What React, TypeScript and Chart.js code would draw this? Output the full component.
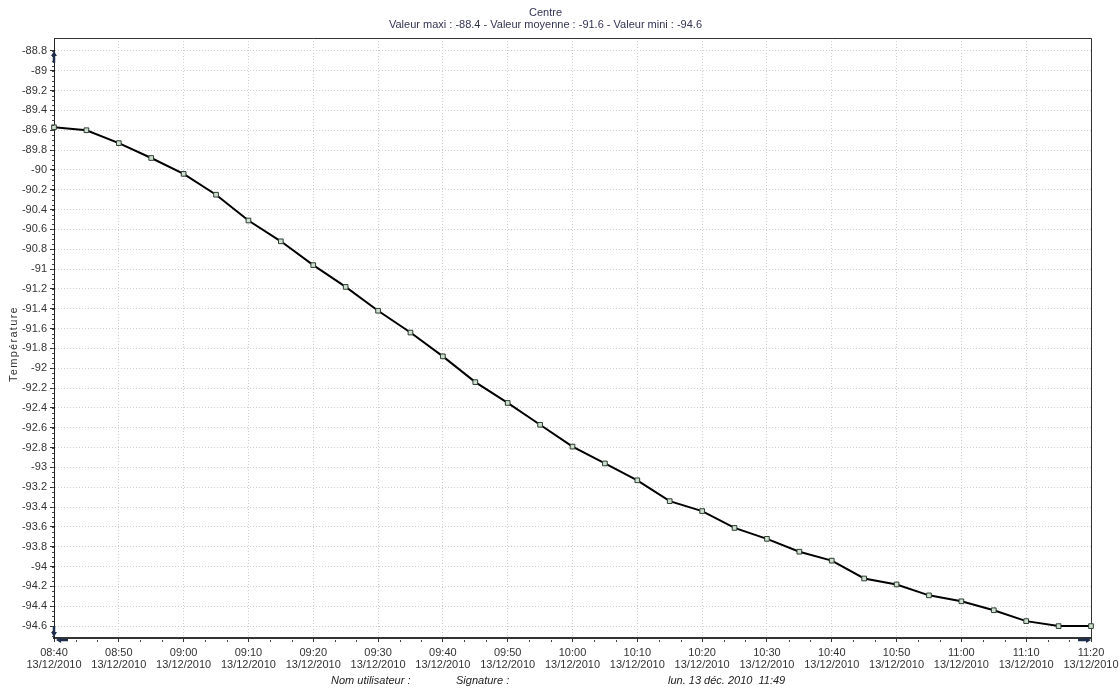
import React, { useEffect, useRef } from "react";
import { Chart, registerables } from "chart.js";

Chart.register(...registerables);

const titleText = "Centre";
const subtitleText = "Valeur maxi : -88.4 - Valeur moyenne : -91.6 - Valeur mini : -94.6";
const yAxisTitle = "Température";
const footerUser = "Nom utilisateur :";
const footerSignature = "Signature :";
const footerDate = "lun. 13 déc. 2010  11:49";

const times = [
  "08:40", "08:45", "08:50", "08:55", "09:00", "09:05", "09:10", "09:15", "09:20", "09:25", "09:30",
  "09:35", "09:40", "09:45", "09:50", "09:55", "10:00", "10:05", "10:10", "10:15", "10:20", "10:25",
  "10:30", "10:35", "10:40", "10:45", "10:50", "10:55", "11:00", "11:05", "11:10", "11:15", "11:20",
];
const temps = [
  -89.57, -89.6, -89.73, -89.88, -90.04, -90.25, -90.51, -90.72, -90.96, -91.18, -91.42,
  -91.64, -91.88, -92.14, -92.35, -92.57, -92.79, -92.96, -93.13, -93.34, -93.44, -93.61,
  -93.72, -93.85, -93.94, -94.12, -94.18, -94.29, -94.35, -94.44, -94.55, -94.6, -94.6,
];

const xTickTimes = [
  "08:40", "08:50", "09:00", "09:10", "09:20", "09:30", "09:40", "09:50", "10:00",
  "10:10", "10:20", "10:30", "10:40", "10:50", "11:00", "11:10", "11:20",
];
const xTickDate = "13/12/2010";

const yTickLabels = [
  "-88.8", "-89", "-89.2", "-89.4", "-89.6", "-89.8", "-90", "-90.2", "-90.4", "-90.6",
  "-90.8", "-91", "-91.2", "-91.4", "-91.6", "-91.8", "-92", "-92.2", "-92.4", "-92.6",
  "-92.8", "-93", "-93.2", "-93.4", "-93.6", "-93.8", "-94", "-94.2", "-94.4", "-94.6",
];
const yMin = -94.72;
const yMax = -88.67;
const yMinorStep = 0.05;
const xMinorDivisions = 3;

const FONT = "'Liberation Sans', Arial, sans-serif";

const minutesOf = (t: string) => {
  const [h, m] = t.split(":").map(Number);
  return h * 60 + m;
};
const start = minutesOf(times[0]);
const rel = (t: string) => minutesOf(t) - start;

function arrow(ctx: CanvasRenderingContext2D, x1: number, y1: number, x2: number, y2: number) {
  const ang = Math.atan2(y2 - y1, x2 - x1);
  const head = 5;
  ctx.beginPath();
  ctx.moveTo(x1, y1);
  ctx.lineTo(x2 - Math.cos(ang) * head, y2 - Math.sin(ang) * head);
  ctx.stroke();
  ctx.beginPath();
  ctx.moveTo(x2, y2);
  ctx.lineTo(x2 - Math.cos(ang) * head - Math.sin(ang) * 3, y2 - Math.sin(ang) * head + Math.cos(ang) * 3);
  ctx.lineTo(x2 - Math.cos(ang) * head + Math.sin(ang) * 3, y2 - Math.sin(ang) * head - Math.cos(ang) * 3);
  ctx.closePath();
  ctx.fill();
}

const decorPlugin = {
  id: "decor",
  beforeDatasetsDraw(chart: any) {
    const { ctx, chartArea: a } = chart;
    ctx.save();
    ctx.strokeStyle = "#333";
    ctx.lineWidth = 1;
    ctx.beginPath();
    ctx.moveTo(a.left, a.top + 0.5);
    ctx.lineTo(a.right + 0.5, a.top + 0.5);
    ctx.lineTo(a.right + 0.5, a.bottom);
    ctx.stroke();
    ctx.restore();
  },
  afterDraw(chart: any) {
    const { ctx, chartArea: a } = chart;
    const xs = chart.scales.x;
    const ys = chart.scales.y;
    ctx.save();
    // minor ticks
    ctx.strokeStyle = "#444";
    ctx.lineWidth = 1;
    ctx.beginPath();
    const yTop = parseFloat(yTickLabels[0]);
    for (let v = yTop; v >= yMin; v -= yMinorStep) {
      const py = Math.round(ys.getPixelForValue(v)) + 0.5;
      ctx.moveTo(a.left - 2, py);
      ctx.lineTo(a.left, py);
    }
    for (let i = 0; i < xTickTimes.length - 1; i++) {
      const m0 = rel(xTickTimes[i]);
      const m1 = rel(xTickTimes[i + 1]);
      for (let k = 1; k < xMinorDivisions; k++) {
        const px = Math.round(xs.getPixelForValue(m0 + ((m1 - m0) * k) / xMinorDivisions)) + 0.5;
        ctx.moveTo(px, a.bottom + 2);
        ctx.lineTo(px, a.bottom + 4);
      }
    }
    ctx.stroke();

    // range arrows
    ctx.strokeStyle = "#1f2d4d";
    ctx.fillStyle = "#1f2d4d";
    ctx.lineWidth = 2.5;
    const pTop = ys.getPixelForValue(parseFloat(yTickLabels[0]));
    const pBot = ys.getPixelForValue(parseFloat(yTickLabels[yTickLabels.length - 1]));
    arrow(ctx, a.left, pTop + 12, a.left, pTop);
    arrow(ctx, a.left, pBot, a.left, a.bottom - 1);
    const px0 = xs.getPixelForValue(rel(times[0]));
    const px1 = xs.getPixelForValue(rel(times[times.length - 1]));
    arrow(ctx, px0 + 14, a.bottom + 2, px0 + 2, a.bottom + 2);
    arrow(ctx, px1 - 13, a.bottom + 2, px1, a.bottom + 2);

    // y axis title
    ctx.fillStyle = "#333";
    ctx.font = `11px ${FONT}`;
    (ctx as any).letterSpacing = "1.3px";
    ctx.textAlign = "center";
    ctx.textBaseline = "middle";
    ctx.translate(14, (a.top + a.bottom) / 2 + 6);
    ctx.rotate(-Math.PI / 2);
    ctx.fillText(yAxisTitle, 0, 0);
    ctx.restore();

    // footer
    ctx.save();
    ctx.fillStyle = "#222";
    ctx.font = `italic 11px ${FONT}`;
    ctx.textAlign = "left";
    ctx.textBaseline = "middle";
    ctx.fillText(footerUser, 331, 681);
    ctx.fillText(footerSignature, 456, 681);
    ctx.fillText(footerDate, 668, 681);
    ctx.restore();
  },
};

export default function App() {
  const ref = useRef<HTMLCanvasElement | null>(null);

  useEffect(() => {
    document.body.style.margin = "0";
    const canvas = ref.current;
    if (!canvas) return;
    const chart = new Chart(canvas, {
      type: "line",
      data: {
        datasets: [
          {
            data: times.map((t, i) => ({ x: rel(t), y: temps[i] })),
            borderColor: "#000",
            borderWidth: 2,
            pointStyle: "rect",
            pointRadius: 3.3,
            pointBackgroundColor: "#cfe0d0",
            pointBorderColor: "#2c3c30",
            pointBorderWidth: 1,
            tension: 0,
            fill: false,
            clip: false as any,
          },
        ],
      },
      options: {
        responsive: false,
        animation: false,
        devicePixelRatio: 1,
        layout: { padding: { left: 0, right: 29, top: 0, bottom: 0 } },
        plugins: {
          legend: { display: false },
          tooltip: { enabled: false },
          title: {
            display: true,
            text: titleText,
            color: "#333355",
            font: { family: FONT, size: 11, weight: "normal", lineHeight: 1 },
            padding: { top: 7, bottom: 0 },
          },
          subtitle: {
            display: true,
            text: subtitleText,
            color: "#333355",
            font: { family: FONT, size: 11, weight: "normal", lineHeight: 1 },
            padding: { top: 1, bottom: 8 },
          },
        },
        scales: {
          x: {
            type: "linear",
            min: rel(times[0]),
            max: rel(times[times.length - 1]),
            afterBuildTicks: (axis: any) => {
              axis.ticks = xTickTimes.map((t) => ({ value: rel(t) }));
            },
            afterFit: (axis: any) => {
              axis.height = 50;
              axis.paddingRight = 0;
              axis.paddingLeft = 0;
            },
            ticks: {
              autoSkip: false,
              maxRotation: 0,
              padding: 5,
              color: "#333",
              font: { family: FONT, size: 11, lineHeight: 1.1 },
              callback: (value: any) => {
                const t = xTickTimes.find((s) => rel(s) === value);
                return t ? [t, xTickDate] : "";
              },
            },
            grid: {
              color: "#cfcfcf",
              lineWidth: 1,
              drawTicks: true,
              tickLength: 4,
              tickColor: "#333",
            },
            border: { display: true, color: "#333", width: 2, dash: [1, 2] },
          },
          y: {
            type: "linear",
            min: yMin,
            max: yMax,
            afterBuildTicks: (axis: any) => {
              axis.ticks = yTickLabels.map((s) => ({ value: parseFloat(s) }));
            },
            afterFit: (axis: any) => {
              axis.width = 54;
            },
            ticks: {
              autoSkip: false,
              padding: 3,
              color: "#333",
              font: { family: FONT, size: 11 },
              callback: (value: any) => {
                const s = yTickLabels.find((l) => Math.abs(parseFloat(l) - value) < 1e-6);
                return s ?? "";
              },
            },
            grid: {
              color: "#cfcfcf",
              lineWidth: 1,
              drawTicks: true,
              tickLength: 4,
              tickColor: "#333",
            },
            border: { display: true, color: "#222", width: 1, dash: [1, 2] },
          },
        },
      },
      plugins: [decorPlugin],
    } as any);
    return () => chart.destroy();
  }, []);

  return <canvas ref={ref} width={1120} height={688} style={{ display: "block" }} />;
}
